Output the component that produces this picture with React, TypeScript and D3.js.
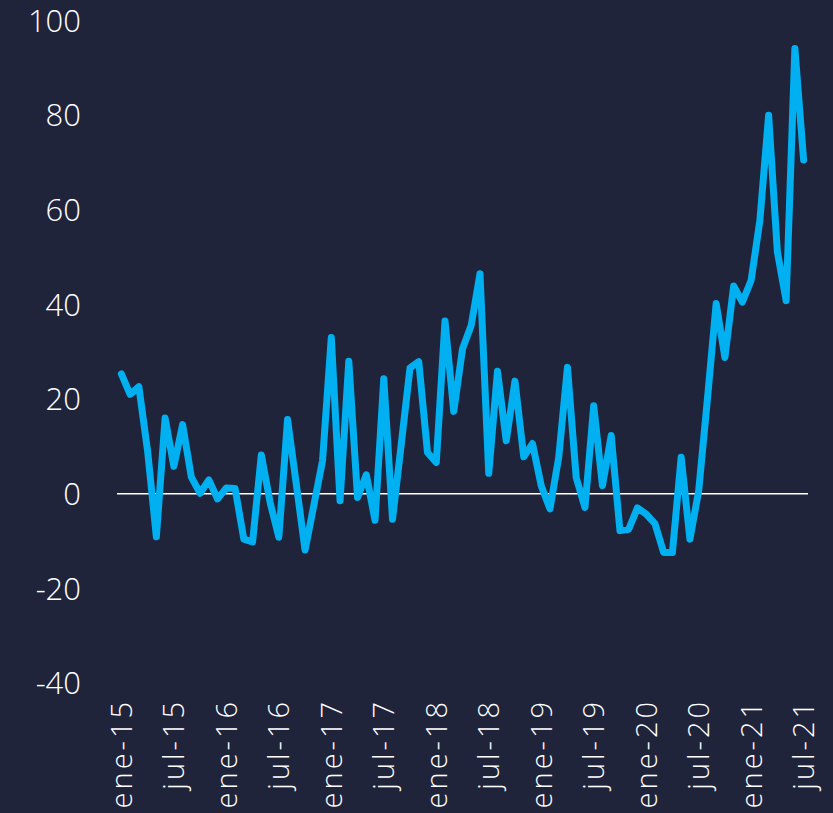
// App.tsx
// Monthly series drawn as a thick line on a dark background, Excel-style category axis.
import React, { useMemo } from 'react';
import * as d3 from 'd3';

// Jan-2015 .. Jul-2021, one value per month
const months: Date[] = d3.timeMonth.range(new Date(2015, 0, 1), new Date(2021, 7, 1));

const values: number[] = [
  25.3, 21.0, 22.6, 9.0, -9.1, 16.0, 5.8, 14.6, 3.5, 0.1, 2.9, -1.1,
  1.2, 1.1, -9.6, -10.2, 8.2, -1.8, -9.2, 15.7, 2.0, -11.9, -2.5, 7.0,
  33.0, -1.5, 28.0, -0.8, 4.0, -5.6, 24.3, -5.4, 10.5, 26.6, 27.9, 8.7,
  6.6, 36.5, 17.4, 30.6, 35.6, 46.5, 4.3, 25.9, 11.2, 23.8, 7.8, 10.6,
  1.7, -3.2, 7.7, 26.7, 3.4, -2.9, 18.6, 1.7, 12.3, -7.8, -7.5, -3.0,
  -4.3, -6.3, -12.4, -12.4, 7.7, -9.6, 0.6, 20.0, 40.2, 28.8, 43.9, 40.5,
  45.1, 57.8, 80.0, 51.1, 40.8, 94.1, 70.5,
];

const yTicks: number[] = [-40, -20, 0, 20, 40, 60, 80, 100];
const xTickLabels: string[] = [
  'ene-15', 'jul-15', 'ene-16', 'jul-16', 'ene-17', 'jul-17', 'ene-18',
  'jul-18', 'ene-19', 'jul-19', 'ene-20', 'jul-20', 'ene-21', 'jul-21',
];

const WIDTH = 833;
const HEIGHT = 813;
const margin = { top: 20.5, right: 25, bottom: 130, left: 117 };
const BG = '#1f243b';
const LINE = '#00b0f0';
const FONT = '"Open Sans", "Noto Sans", sans-serif';

export default function App() {
  const innerW = WIDTH - margin.left - margin.right;
  const innerH = HEIGHT - margin.top - margin.bottom;

  const x = useMemo(
    () =>
      d3
        .scaleBand<number>()
        .domain(months.map((_, i) => i))
        .range([0, innerW]),
    [innerW],
  );
  const y = useMemo(
    () => d3.scaleLinear().domain([-40, 100]).range([innerH, 0]),
    [innerH],
  );

  const xc = (i: number) => (x(i) ?? 0) + x.bandwidth() / 2;

  const path = d3
    .line<number>()
    .x((_, i) => xc(i))
    .y((d) => y(d))(values);

  return (
    <svg
      width={WIDTH}
      height={HEIGHT}
      style={{ position: 'fixed', left: 0, top: 0, display: 'block', background: BG }}
    >
      <rect width={WIDTH} height={HEIGHT} fill={BG} />
      <g transform={`translate(${margin.left},${margin.top})`}>
        {/* y tick labels */}
        {yTicks.map((t) => (
          <text
            key={t}
            x={-36}
            y={y(t)}
            dy="0.36em"
            textAnchor="end"
            fontFamily={FONT}
            fontWeight={300}
            fontSize={31}
            fill="#ffffff"
          >
            {t}
          </text>
        ))}

        {/* zero line */}
        <line x1={0} x2={innerW} y1={y(0)} y2={y(0)} stroke="#ffffff" strokeWidth={1.5} />

        <path
          d={path || ''}
          fill="none"
          stroke={LINE}
          strokeWidth={7}
          strokeLinejoin="round"
          strokeLinecap="round"
        />

        {/* x tick labels, every 6 months */}
        {xTickLabels.map((label, k) => {
          const i = k * 6;
          return (
            <text
              key={label}
              transform={`translate(${xc(i)},${innerH + 16}) rotate(-90)`}
              dy="0.36em"
              textAnchor="end"
              fontFamily={FONT}
              fontWeight={300}
              fontSize={29}
              letterSpacing={3}
              fill="#ffffff"
            >
              {label}
            </text>
          );
        })}
      </g>
    </svg>
  );
}
